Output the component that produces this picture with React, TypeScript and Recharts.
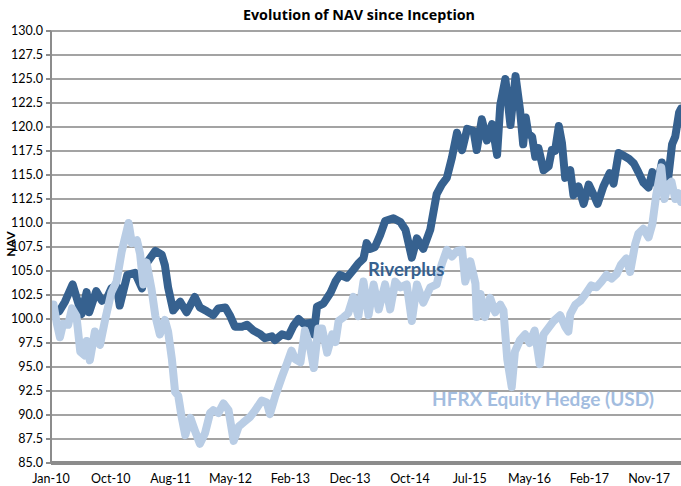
import React from "react";
import {CartesianGrid, Line, LineChart, XAxis, YAxis} from "recharts";

// months since Jan-10 (fractional) and NAV
const riverplusMonths = [
  1.3, 2.2, 3.4, 4.8, 5.6, 6.0, 7.1, 8.0, 8.8, 9.5, 10.3, 10.8, 12.0, 13.2, 14.3, 15.0, 16.4, 17.4, 17.9, 18.4,
  19.2, 20.3, 21.3, 22.6, 23.4, 24.5, 25.5, 26.3, 27.4, 28.1, 28.9, 30.0, 30.8, 31.8, 32.9, 33.6, 34.7, 35.2, 36.3, 37.3,
  38.1, 38.9, 39.7, 40.7, 41.3, 41.8, 42.8, 43.9, 44.7, 45.4, 46.5, 47.5, 48.3, 49.1, 49.6, 50.2, 50.9, 51.7, 52.5, 53.8,
  54.9, 55.7, 56.7, 57.5, 58.5, 59.6, 60.6, 61.4, 62.2, 63.0, 63.8, 64.6, 65.4, 66.4, 66.9, 67.7, 68.5, 69.3, 70.1, 70.6,
  71.4, 72.2, 73.0, 73.7, 74.2, 74.6, 75.0, 75.6, 76.1, 76.6, 77.4, 78.2, 78.7, 79.2, 79.8, 80.3, 80.8, 81.6, 82.1, 82.9,
  83.7, 84.5, 85.3, 85.9, 86.8, 87.8, 88.4, 89.2, 90.0, 90.8, 91.6, 92.3, 93.1, 93.9, 94.5, 95.3, 96.0, 96.8, 97.6, 98.1,
  98.7, 99.0,
];
const riverplusNav = [
  100.8, 101.8, 103.6, 100.5, 102.8, 100.7, 102.9, 101.9, 102.2, 103.2, 103.5, 101.4, 104.6, 104.8, 103.2, 105.8, 107.1, 106.7, 105.6, 103.3,
  100.9, 101.8, 100.7, 102.3, 101.2, 100.8, 100.4, 101.1, 101.2, 100.4, 99.2, 99.2, 99.4, 98.8, 98.4, 98.0, 98.2, 97.8, 98.4, 98.2,
  99.3, 100.0, 99.5, 99.6, 98.4, 101.3, 101.6, 102.7, 103.9, 104.6, 104.3, 105.1, 105.8, 106.3, 107.9, 107.3, 107.5, 108.7, 110.2, 110.5,
  110.1, 109.3, 106.4, 108.4, 107.3, 109.3, 113.0, 114.0, 114.7, 116.8, 119.4, 117.6, 119.8, 119.6, 117.6, 120.8, 118.6, 120.3, 117.1, 122.3,
  125.0, 120.2, 125.3, 121.8, 118.2, 121.0, 119.3, 119.0, 116.9, 117.8, 115.5, 115.9, 117.6, 117.5, 120.1, 118.3, 114.7, 115.5, 112.9, 113.8,
  112.0, 114.0, 112.9, 112.0, 113.8, 115.2, 114.1, 117.3, 117.0, 116.7, 116.2, 115.3, 114.2, 113.7, 115.3, 113.9, 116.3, 113.6, 118.2, 119.0,
  121.5, 121.9,
];

const hfrxMonths = [
  0.0, 0.4, 0.9, 1.4, 1.9, 2.7, 3.3, 4.0, 4.6, 5.3, 5.6, 6.1, 6.9, 7.7, 8.5, 9.5, 10.3, 11.1, 12.2, 12.7,
  13.5, 14.0, 14.5, 15.0, 15.8, 16.4, 17.1, 17.9, 18.4, 19.0, 19.5, 20.0, 20.5, 21.1, 21.9, 22.6, 23.4, 24.2, 25.0, 25.5,
  26.3, 27.1, 27.9, 28.7, 29.5, 30.2, 31.3, 32.1, 33.1, 33.9, 34.4, 35.2, 36.3, 37.1, 37.8, 38.4, 39.2, 39.9, 40.7, 41.3,
  42.0, 42.6, 43.4, 44.2, 44.7, 45.2, 46.0, 46.7, 47.5, 48.3, 49.1, 49.9, 50.7, 51.5, 52.5, 53.3, 54.1, 54.9, 55.9, 56.7,
  57.5, 58.5, 59.6, 60.6, 61.4, 62.2, 63.0, 63.8, 64.6, 65.1, 65.9, 66.7, 66.9, 67.5, 68.2, 69.0, 69.8, 70.6, 71.1, 71.7,
  72.4, 72.9, 73.7, 74.5, 75.2, 76.0, 76.8, 77.4, 78.2, 79.0, 80.0, 80.8, 81.3, 81.6, 82.4, 83.2, 84.0, 84.9, 85.7, 86.5,
  87.3, 88.1, 88.9, 89.6, 90.4, 91.0, 91.8, 92.3, 93.1, 93.9, 94.5, 95.1, 95.9, 96.4, 97.0, 97.5, 98.1, 98.6, 99.0,
];
const hfrxNav = [
  101.5, 101.5, 99.6, 98.1, 99.5, 99.4, 101.1, 100.3, 96.6, 96.2, 97.7, 95.7, 98.7, 97.3, 99.9, 102.8, 103.9, 107.0, 110.0, 107.9,
  108.2, 106.8, 103.6, 105.9, 103.1, 100.3, 98.4, 99.9, 98.7, 95.8, 92.4, 92.0, 89.9, 87.9, 89.7, 88.4, 87.0, 88.1, 90.2, 90.5,
  90.2, 91.2, 90.5, 87.3, 88.8, 89.2, 89.8, 90.5, 91.5, 91.3, 90.1, 91.9, 94.0, 95.4, 96.7, 95.8, 95.5, 98.8, 97.1, 94.9,
  99.0, 99.0, 96.5, 98.4, 97.6, 99.8, 100.2, 100.6, 102.3, 100.3, 103.9, 100.4, 103.6, 101.0, 103.6, 101.0, 103.9, 103.3, 103.6, 99.8,
  103.6, 101.7, 103.3, 103.6, 105.7, 107.2, 106.5, 107.1, 107.2, 103.9, 106.0, 103.7, 100.2, 102.6, 100.2, 102.2, 100.7, 101.5, 100.9, 95.8,
  92.9, 96.6, 97.8, 98.4, 97.5, 98.8, 95.3, 98.4, 99.1, 99.8, 100.4, 99.2, 98.7, 100.5, 101.5, 101.9, 102.6, 103.5, 103.3, 103.9,
  104.6, 104.2, 104.7, 105.7, 106.3, 104.9, 107.8, 108.9, 109.4, 108.5, 109.9, 112.9, 115.8, 112.5, 114.0, 114.3, 112.5, 113.1, 112.2,
];

const tickMonths = [0, 9.4, 18.8, 28.2, 37.6, 47, 56.4, 65.8, 75.2, 84.6, 94];
const tickLabels = ["Jan-10", "Oct-10", "Aug-11", "May-12", "Feb-13", "Dec-13", "Oct-14", "Jul-15", "May-16", "Feb-17", "Nov-17"];
const navTicks = [85, 87.5, 90, 92.5, 95, 97.5, 100, 102.5, 105, 107.5, 110, 112.5, 115, 117.5, 120, 122.5, 125, 127.5, 130];

const riverplusData = riverplusMonths.map((t, i) => ({t, v: riverplusNav[i]}));
const hfrxData = hfrxMonths.map((t, i) => ({t, v: hfrxNav[i]}));

const DARK = "#36618f";
const LIGHT = "#b9cde5";
const FONT = "Lato, 'Open Sans', sans-serif";

const App = () => {
  const fmtX = (v: number) => {
    const i = tickMonths.indexOf(v);
    return i >= 0 ? tickLabels[i] : "";
  };

  return (
    // pinned to the page corner so the body margin can't push it into scrollbars
    <div style={{position: "absolute", left: 0, top: 0, width: 681, height: 486, overflow: "hidden", fontFamily: FONT}}>
      <LineChart width={681} height={486} margin={{top: 31, right: 0, left: 0, bottom: 0}}>
        <CartesianGrid vertical={false} stroke="#a3a3a3" strokeWidth={2} />
        <XAxis
          type="number"
          dataKey="t"
          domain={[0, 99]}
          ticks={tickMonths}
          tickFormatter={fmtX}
          allowDataOverflow
          interval={0}
          height={23}
          tickLine={false}
          tickSize={6}
          tickMargin={5}
          stroke="#8c8c8c"
          strokeWidth={4}
          tick={{fill: "#000", fontSize: 12.5, fontFamily: FONT}}
        />
        <YAxis
          domain={[85, 130]}
          ticks={navTicks}
          interval={0}
          width={51}
          tickSize={5}
          tickMargin={3}
          tickFormatter={(v: number) => v.toFixed(1)}
          stroke="#8c8c8c"
          strokeWidth={2}
          tick={{fill: "#000", fontSize: 12.5, fontFamily: FONT}}
        />
        <Line
          data={riverplusData}
          dataKey="v"
          type="linear"
          stroke={DARK}
          strokeWidth={8}
          strokeLinejoin="round"
          strokeLinecap="round"
          dot={false}
          isAnimationActive={false}
        />
        <Line
          data={hfrxData}
          dataKey="v"
          type="linear"
          stroke={LIGHT}
          strokeWidth={8}
          strokeLinejoin="round"
          strokeLinecap="round"
          dot={false}
          isAnimationActive={false}
        />
      </LineChart>
      <div style={{position: "absolute", left: 0, top: 7, width: 718, textAlign: "center", fontWeight: 700, fontSize: 14.3, lineHeight: "16px", fontFamily: "'Open Sans', sans-serif"}}>
        Evolution of NAV since Inception
      </div>
      <div style={{position: "absolute", left: -4, top: 237, width: 30, textAlign: "center", fontWeight: 700, fontSize: 12, lineHeight: "14px", transform: "rotate(-90deg)"}}>
        NAV
      </div>
      <div style={{position: "absolute", left: 368, top: 258, fontWeight: 700, fontSize: 18.5, lineHeight: "22px", color: DARK}}>
        Riverplus
      </div>
      <div style={{position: "absolute", left: 432, top: 388, fontWeight: 700, fontSize: 19, lineHeight: "22px", color: "#a3bddf", whiteSpace: "nowrap"}}>
        HFRX Equity Hedge (USD)
      </div>
    </div>
  );
};

export default App;
